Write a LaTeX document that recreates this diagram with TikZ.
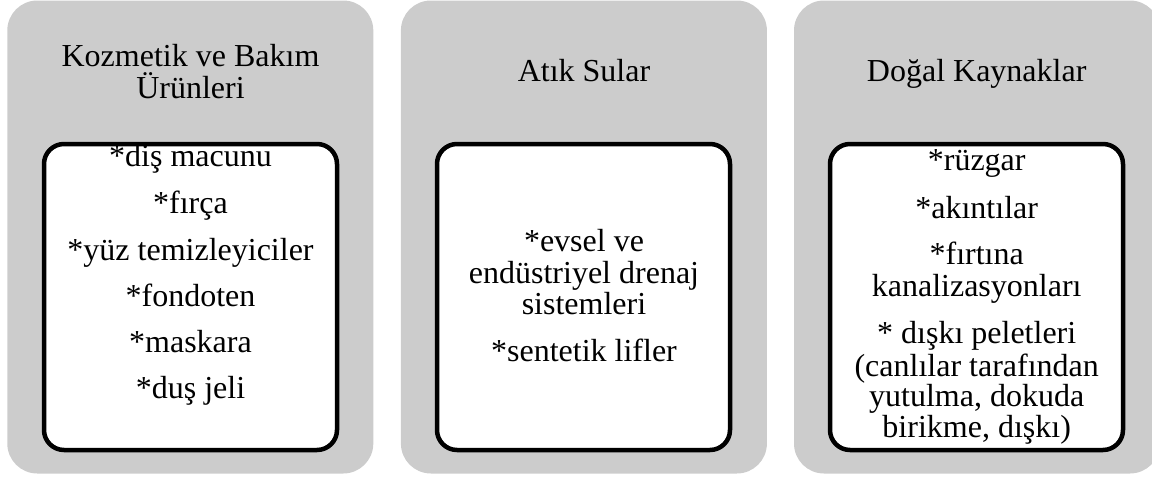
\documentclass[tikz,border=0pt]{standalone}
\usepackage{fontspec}
\setmainfont{Liberation Serif}
\definecolor{panelgray}{RGB}{204,204,204}
\tikzset{
  panel/.style={fill=panelgray, draw=none, rounded corners=30pt, minimum width=366pt, minimum height=473pt, inner sep=0pt, outer sep=0pt},
  listbox/.style={fill=white, draw=black, line width=4.5pt, rounded corners=20pt, minimum width=293pt, minimum height=306pt, inner sep=0pt},
  txt/.style={anchor=base, inner sep=0pt, font=\fontsize{32}{32}\selectfont, text=black}
}
\begin{document}
\begin{tikzpicture}[x=1pt,y=-1pt]
\useasboundingbox (0,0) rectangle (1152,479);
\clip (0,0) rectangle (1152,479);
% panels
\node[panel] (p1) at (190.3,237) {};
\node[panel] (p2) at (583.9,237) {};
\node[panel] (p3) at (977,237) {};
% inner boxes
\node[listbox] (b1) at (190.5,297) {};
\node[listbox] (b2) at (583.5,297) {};
\node[listbox] (b3) at (976.5,297) {};
% titles
\node[txt] (t1a) at (190.5,66) {Kozmetik ve Bakım};
\node[txt] (t1b) at (190.5,98.3) {Ürünleri};
\node[txt] (t2) at (584,81.7) {Atık Sular};
\node[txt] (t3) at (976.7,81.7) {Doğal Kaynaklar};
% box 1
\node[txt] (a1) at (190.5,166.7) {*diş macunu};
\node[txt] (a2) at (190.5,213.3) {*fırça};
\node[txt] (a3) at (190.5,260.5) {*yüz temizleyiciler};
\node[txt] (a4) at (190.5,306) {*fondoten};
\node[txt] (a5) at (190.5,352) {*maskara};
\node[txt] (a6) at (190.5,398.3) {*duş jeli};
% box 2
\node[txt] (c1) at (584,251) {*evsel ve};
\node[txt] (c2) at (584,283) {endüstriyel drenaj};
\node[txt] (c3) at (584,314) {sistemleri};
\node[txt] (c4) at (584,361) {*sentetik lifler};
% box 3
\node[txt] (d1) at (976.7,170.5) {*rüzgar};
\node[txt] (d2) at (976.7,218.3) {*akıntılar};
\node[txt] (d3) at (976.7,264) {*fırtına};
\node[txt] (d4) at (976.7,296) {kanalizasyonları};
\node[txt] (d5) at (976.7,343.3) {* dışkı peletleri};
\node[txt] (d6) at (976.7,376) {(canlılar tarafından};
\node[txt] (d7) at (976.7,406.7) {yutulma, dokuda};
\node[txt] (d8) at (976.7,437) {birikme, dışkı)};
\end{tikzpicture}
\end{document}
